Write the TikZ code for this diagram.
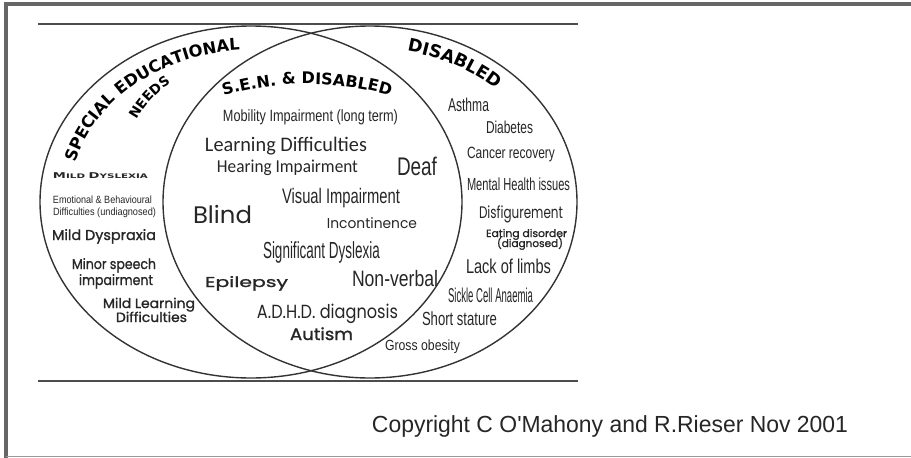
\documentclass[tikz,border=0pt]{standalone}
\usepackage{fontspec}
\usepackage{graphicx}
\setmainfont{Liberation Sans}
\newfontfamily\narrowfont{Liberation Sans}
\newfontfamily\calibfont{Carlito}
\newfontfamily\geofont{Poppins}
\newfontfamily\geomedfont[FakeBold=1.2]{Poppins}
\newfontfamily\headfont{DejaVu Sans}
\usetikzlibrary{decorations.text}
\newcommand{\fitw}[2]{\resizebox{#1pt}{\height}{#2}}
\newcommand{\hdsen}{\headfont\bfseries\fontsize{16.3}{16.3}\selectfont}
\newcommand{\hdneeds}{\headfont\bfseries\fontsize{13.5}{13.5}\selectfont}
\newcommand{\hdboth}{\headfont\bfseries\fontsize{16}{16}\selectfont}
\newcommand{\hddis}{\headfont\bfseries\fontsize{17.5}{17.5}\selectfont}
\tikzset{
  lbl/.style={anchor=base, inner sep=0pt, text=black!85},
  narrow/.style={lbl, font=\narrowfont\fontsize{#1}{#1}\selectfont},
  calib/.style={lbl, font=\calibfont\fontsize{#1}{#1}\selectfont},
  geo/.style={lbl, font=\geofont\fontsize{#1}{#1}\selectfont},
  geob/.style={lbl, font=\geomedfont\fontsize{#1}{#1}\selectfont},
  ring/.style={line width=1.4pt, draw=black!80},
  rule/.style={line width=2pt, draw=black!70},
}
\begin{document}
\begin{tikzpicture}[x=1pt,y=1pt]
\useasboundingbox (0,0) rectangle (911,-458);
\draw[black!60, line width=4pt] (5.5,-458) -- (5.5,-4) -- (911,-4);
\draw[black!40, line width=1.2pt] (5.5,-456.5) -- (911,-456.5);
\draw[rule] (38,-24) -- (578,-24);
\draw[rule] (38,-381) -- (578,-381);
\draw[ring] (251,-202) ellipse [x radius=211, y radius=176];
\draw[ring] (370,-202) ellipse [x radius=207, y radius=176];

\path[decorate, decoration={text along path, text align=center,
  text={|\hdsen|SPECIAL EDUCATIONAL}}]
  (251,-202) ++(175:182 and 152) arc [start angle=175, end angle=85, x radius=182, y radius=152];
\path[decorate, decoration={text along path, text align=center,
  text={|\hdneeds|NEEDS}}]
  (224.5,-167.5) ++(167:100) arc [start angle=167, end angle=107, radius=100];
\path[decorate, decoration={text along path, text align=center,
  text={|\hdboth|S.E.N. {\&} DISABLED}}]
  (307,-384) ++(110:300) arc [start angle=110, end angle=70, radius=300];
\path[decorate, decoration={text along path, text align=center,
  text={|\hddis|DISABLED}}]
  (370,-202) ++(92:185 and 154) arc [start angle=92, end angle=32, x radius=185, y radius=154];

\node[narrow=16.3] (mobility) at (310.5,-121) {\fitw{175}{Mobility Impairment (long term)}};
\node[calib=20.7] (learning) at (286,-151) {\fitw{162}{Learning Difficulties}};
\node[calib=18.2] (hearing) at (287.5,-172) {\fitw{141}{Hearing Impairment}};
\node[narrow=25.5] (deaf) at (417,-175) {\fitw{40}{Deaf}};
\node[narrow=21] (visual) at (341,-203) {\fitw{118}{Visual Impairment}};
\node[geo=23.9] (blind) at (222.5,-223) {\fitw{59}{Blind}};
\node[geo=14.3] (incont) at (372,-228) {\fitw{90}{Incontinence}};
\node[narrow=23.3] (dyslexia) at (321.5,-258) {\fitw{117}{Significant Dyslexia}};
\node[narrow=22.3] (nonverbal) at (395,-286) {\fitw{86}{Non-verbal}};
\node[geob=14.3] (epilepsy) at (246.5,-287) {\fitw{83}{Epilepsy}};
\node[geo=19] (adhd) at (327.5,-318) {\fitw{141}{A.D.H.D. diagnosis}};
\node[geob=16.7] (autism) at (321.5,-340) {\fitw{63}{Autism}};

\node[lbl, font=\headfont\bfseries] (milddys) at (100.5,-178) {\fitw{95}{\fontsize{8}{8}\selectfont M\fontsize{6.3}{6.3}\selectfont ILD \fontsize{8}{8}\selectfont D\fontsize{6.3}{6.3}\selectfont YSLEXIA}};
\node[narrow=10.5] (emotional) at (102.5,-203) {\fitw{99}{Emotional \& Behavioural}};
\node[narrow=10.5] (emotionalb) at (104.5,-215) {\fitw{103}{Difficulties (undiagnosed)}};
\node[geob=14.3] (dyspraxia) at (104,-240) {\fitw{104}{Mild Dyspraxia}};
\node[geob=14.3] (minor) at (114,-269) {\fitw{84}{Minor speech}};
\node[geob=14.3] (minorb) at (116,-285) {\fitw{74}{impairment}};
\node[geob=13.5] (mildlearn) at (149,-308) {\fitw{92}{Mild Learning}};
\node[geob=13.5] (mildlearnb) at (151.5,-322) {\fitw{71}{Difficulties}};

\node[narrow=18.6] (asthma) at (468.5,-111) {\fitw{41}{Asthma}};
\node[narrow=17.2] (diabetes) at (509.5,-133) {\fitw{47}{Diabetes}};
\node[narrow=16.3] (cancer) at (511,-158) {\fitw{88}{Cancer recovery}};
\node[narrow=17.5] (mental) at (518.5,-190) {\fitw{103}{Mental Health issues}};
\node[geo=16.7] (disfig) at (521,-218) {\fitw{84}{Disfigurement}};
\node[geob=10.5] (eating) at (526.5,-237) {\fitw{81}{Eating disorder}};
\node[geob=10.5] (eatingb) at (530,-247) {\fitw{66}{(diagnosed)}};
\node[narrow=20] (limbs) at (508.5,-273) {\fitw{85}{Lack of limbs}};
\node[narrow=20] (sickle) at (490.5,-302) {\fitw{85}{Sickle Cell Anaemia}};
\node[narrow=19] (short) at (459.5,-325) {\fitw{75}{Short stature}};
\node[narrow=14.7] (obesity) at (422.5,-350) {\fitw{75}{Gross obesity}};

\node[narrow=23.3] (copyright) at (610,-432) {\fitw{476}{Copyright C O'Mahony and R.Rieser Nov 2001}};
\end{tikzpicture}
\end{document}
